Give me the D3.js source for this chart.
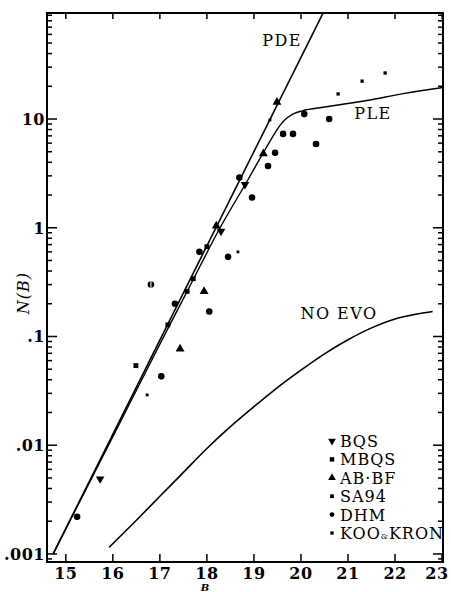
<!DOCTYPE html>
<html>
<head>
<meta charset="utf-8">
<script src="https://cdn.jsdelivr.net/npm/d3@7"></script>
<style>
  body { margin: 0; background: #fff; }
  svg { display: block; }
  text { font-family: "DejaVu Serif", "Liberation Serif", serif; fill: #000; }
</style>
</head>
<body>
<div id="chart"></div>
<script>
// axis ticks
var xTicks = [15, 16, 17, 18, 19, 20, 21, 22, 23];
var yTicks = [0.001, 0.01, 0.1, 1, 10];
var yTickLabels = ['.001', '.01', '.1', '1', '10'];

// model curves: [B, N(B)]
var pde = [[14.73, 0.001], [20.5, 100]];
var ple = [[14.73, 0.001], [16, 0.012], [17, 0.085], [17.6, 0.27], [18.28, 1.0], [18.87, 2.75],
  [19.2, 4.9], [19.4, 6.9], [19.55, 8.7], [19.7, 10.2], [19.85, 11.2], [20.03, 11.9], [20.5, 12.9],
  [21.4, 14.8], [22.2, 17.2], [23.02, 19.5]];
var noEvo = [[15.92, 0.00115], [16.5, 0.00204], [17, 0.00339], [17.5, 0.00562], [18, 0.00933],
  [18.5, 0.0148], [19, 0.0226], [19.5, 0.0339], [20, 0.049], [20.5, 0.0692], [21, 0.0933],
  [21.5, 0.120], [22, 0.145], [22.5, 0.162], [22.8, 0.170]];

// observed counts: [B, N(B)]
var bqs = [[15.73, 0.0049], [18.30, 0.93], [18.81, 2.5]];
var mbqs = [[16.49, 0.054], [17.17, 0.128], [17.58, 0.26], [17.71, 0.34], [18.0, 0.67]];
var abbf = [[17.43, 0.077], [17.94, 0.26], [18.20, 1.04], [19.20, 4.8], [19.49, 14.3]];
var sa94 = [[16.73, 0.029], [18.66, 0.6], [19.34, 9.8]];
var dhm = [[15.24, 0.0022], [17.03, 0.043], [17.32, 0.2], [18.05, 0.17], [17.84, 0.6],
  [18.45, 0.54], [18.69, 2.9], [18.96, 1.9], [19.30, 3.7], [19.45, 4.9], [19.62, 7.3],
  [19.83, 7.3], [20.32, 5.9], [20.07, 11.1], [20.60, 10.0]];
var dhmOpen = [[16.81, 0.30]];
var kooKron = [[20.79, 17], [21.30, 22.3], [21.79, 26.5]];

var legendNames = ['BQS', 'MBQS', 'AB\u00b7BF', 'SA94', 'DHM', 'KOO&KRON'];

function drawChart() {
  var width = 451, height = 592;
  var m = { left: 47, right: 443, top: 13, bottom: 562 };

  var svg = d3.select('#chart').append('svg')
    .attr('width', width)
    .attr('height', height);

  var x = d3.scaleLinear().domain([14.6, 23.02]).range([m.left, m.right]);
  var y = d3.scaleLog().domain([Math.pow(10, -3.074), Math.pow(10, 1.975)]).range([m.bottom, m.top]);

  svg.append('clipPath').attr('id', 'plot')
    .append('rect').attr('x', m.left).attr('y', m.top)
    .attr('width', m.right - m.left).attr('height', m.bottom - m.top);

  // frame
  svg.append('rect')
    .attr('x', m.left).attr('y', m.top)
    .attr('width', m.right - m.left).attr('height', m.bottom - m.top)
    .attr('fill', 'none').attr('stroke', '#000').attr('stroke-width', 2);

  // log ticks, left and right, pointing inward
  var minor = [];
  [0.0001, 0.001, 0.01, 0.1, 1, 10].forEach(function (d) {
    for (var k = 2; k <= 9; k++) {
      var v = k * d;
      if (v > y.domain()[0] && v < y.domain()[1]) minor.push(v);
    }
  });

  var ticks = svg.append('g').attr('stroke', '#000').attr('stroke-width', 1.5);
  ticks.append('g').selectAll('line').data(minor).join('line')
    .attr('x1', m.left).attr('x2', m.left + 5)
    .attr('y1', d => y(d)).attr('y2', d => y(d));
  ticks.append('g').selectAll('line').data(minor).join('line')
    .attr('x1', m.right).attr('x2', m.right - 5)
    .attr('y1', d => y(d)).attr('y2', d => y(d));
  ticks.append('g').selectAll('line').data(yTicks).join('line')
    .attr('x1', m.left).attr('x2', m.left + 10)
    .attr('y1', d => y(d)).attr('y2', d => y(d));
  ticks.append('g').selectAll('line').data(yTicks).join('line')
    .attr('x1', m.right).attr('x2', m.right - 10)
    .attr('y1', d => y(d)).attr('y2', d => y(d));
  ticks.append('g').selectAll('line').data(xTicks).join('line')
    .attr('x1', d => x(d)).attr('x2', d => x(d))
    .attr('y1', m.bottom).attr('y2', m.bottom - 8);
  ticks.append('g').selectAll('line').data(xTicks).join('line')
    .attr('x1', d => x(d)).attr('x2', d => x(d))
    .attr('y1', m.top).attr('y2', m.top + 6);

  // tick labels
  svg.append('g').selectAll('text').data(yTicks).join('text')
    .attr('x', m.left - 2).attr('y', d => y(d) + 6)
    .attr('text-anchor', 'end')
    .attr('font-size', 16).attr('font-weight', 'bold').attr('letter-spacing', 0.5)
    .text((d, i) => yTickLabels[i]);

  // last label pushed against the edge so it is not cut
  svg.append('g').selectAll('text').data(xTicks).join('text')
    .attr('x', d => Math.min(x(d), width - 14))
    .attr('y', 579)
    .attr('text-anchor', 'middle')
    .attr('font-size', 16).attr('font-weight', 'bold').attr('letter-spacing', 0.5)
    .text(d => d);

  // axis titles
  svg.append('text')
    .attr('transform', 'translate(29,293) rotate(-90)')
    .attr('text-anchor', 'middle')
    .attr('font-size', 16).attr('font-style', 'italic').attr('letter-spacing', 1)
    .text('N(B)');

  svg.append('text')
    .attr('x', 205).attr('y', 591)
    .attr('text-anchor', 'middle')
    .attr('font-size', 10).attr('font-weight', 'bold').attr('font-style', 'italic')
    .text('B');

  // curves
  var line = d3.line().x(d => x(d[0])).y(d => y(d[1])).curve(d3.curveMonotoneX);
  var curves = svg.append('g').attr('clip-path', 'url(#plot)')
    .attr('fill', 'none').attr('stroke', '#000');
  curves.append('path').datum(pde).attr('d', line).attr('stroke-width', 1.6);
  curves.append('path').datum(ple).attr('d', line).attr('stroke-width', 1.4);
  curves.append('path').datum(noEvo).attr('d', line).attr('stroke-width', 1.6);

  // curve labels
  function label(t, px, py) {
    svg.append('text').attr('x', px).attr('y', py)
      .attr('text-anchor', 'middle').attr('font-size', 16).attr('letter-spacing', 1.5)
      .text(t);
  }
  label('PDE', x(19.6), y(47));
  label('PLE', x(21.53), y(10));
  label('NO EVO', x(20.81), y(0.145));

  // point symbols
  var types = [d3.symbolTriangle, d3.symbolSquare, d3.symbolTriangle, d3.symbolSquare, d3.symbolCircle, d3.symbolSquare];
  var sizes = [32, 24, 34, 8, 34, 11];
  var flip = [true, false, false, false, false, false];
  var series = [bqs, mbqs, abbf, sa94, dhm, kooKron];

  var pts = svg.append('g');
  series.forEach(function (s, i) {
    pts.append('g').selectAll('path').data(s).join('path')
      .attr('d', d3.symbol().type(types[i]).size(sizes[i]))
      .attr('transform', d => 'translate(' + x(d[0]) + ',' + y(d[1]) + ')' + (flip[i] ? ' rotate(180)' : ''))
      .attr('fill', '#000');
  });

  var open = pts.append('g').selectAll('g').data(dhmOpen).join('g')
    .attr('transform', d => 'translate(' + x(d[0]) + ',' + y(d[1]) + ')');
  open.append('circle').attr('r', 3.3).attr('fill', '#000');
  open.append('line').attr('y1', -3.5).attr('y2', 3.5).attr('stroke', '#fff').attr('stroke-width', 1);

  // legend
  var legSizes = [26, 20, 26, 14, 18, 11];
  var leg = svg.append('g');
  legendNames.forEach(function (name, i) {
    var gy = 441 + i * 18.4;
    leg.append('path')
      .attr('d', d3.symbol().type(types[i]).size(legSizes[i]))
      .attr('transform', 'translate(332,' + gy + ')' + (flip[i] ? ' rotate(180)' : ''))
      .attr('fill', '#000');
    var t = leg.append('text').attr('x', 340).attr('y', gy + 6)
      .attr('font-size', 16).attr('letter-spacing', 1);
    if (name.indexOf('&') > 0) {
      var parts = name.split('&');
      t.append('tspan').text(parts[0]);
      t.append('tspan').attr('font-size', 8).text('&');
      t.append('tspan').text(parts[1]);
    } else {
      t.text(name);
    }
  });
}

drawChart();
</script>
</body>
</html>
